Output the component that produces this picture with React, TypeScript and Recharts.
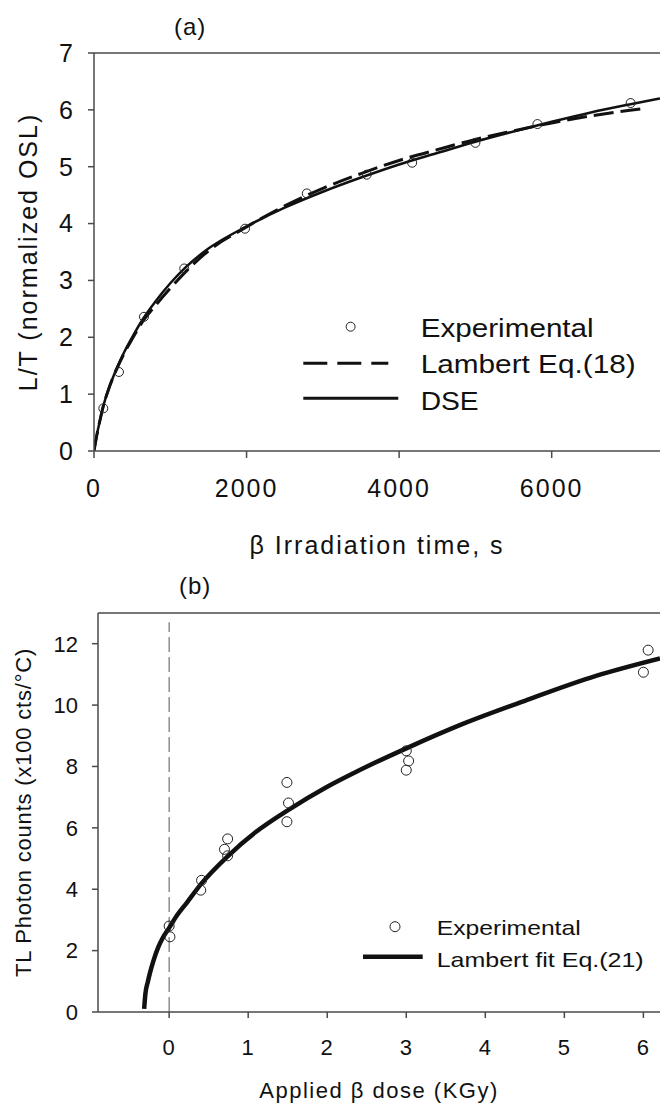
import React from 'react';
import { ComposedChart, Line, Scatter, XAxis, YAxis, ReferenceLine, Legend } from 'recharts';

// ---------- Panel (a) data ----------
const expTimeA = [122, 327, 655, 1183, 1980, 2790, 3575, 4171, 5000, 5813, 7035];
const expLTA = [0.75, 1.39, 2.36, 3.21, 3.91, 4.53, 4.86, 5.07, 5.42, 5.75, 6.12];

const dseTime = [0, 40, 80, 120, 200, 300, 400, 500, 650, 800, 1000, 1200, 1500, 2000, 2500, 3000, 3500, 4000, 4500, 5000, 5500, 6000, 6500, 7000, 7420];
const dseLT = [0, 0.3, 0.55, 0.78, 1.12, 1.46, 1.75, 2.0, 2.34, 2.62, 2.95, 3.23, 3.56, 3.95, 4.28, 4.56, 4.81, 5.04, 5.24, 5.44, 5.62, 5.79, 5.95, 6.09, 6.2];

const lamTime = [0, 40, 80, 120, 200, 300, 400, 500, 650, 800, 1000, 1200, 1500, 2000, 2500, 3000, 3500, 4000, 4500, 5000, 5500, 6000, 6500, 7000, 7180];
const lamLT = [0, 0.3, 0.55, 0.78, 1.12, 1.45, 1.73, 1.97, 2.3, 2.55, 2.86, 3.15, 3.52, 3.94, 4.31, 4.62, 4.88, 5.11, 5.3, 5.48, 5.63, 5.77, 5.89, 5.99, 6.02];

const xTicksA = [0, 2000, 4000, 6000];
const yTicksA = [0, 1, 2, 3, 4, 5, 6, 7];
const xDomainA = [0, 7420];
const yDomainA = [0, 7];

// ---------- Panel (b) data ----------
const expDoseB = [0, 0.01, 0.41, 0.4, 0.7, 0.74, 0.74, 1.49, 1.51, 1.49, 3.0, 3.03, 3.0, 6.06, 6.0];
const expCountsB = [2.8, 2.45, 4.29, 3.97, 5.3, 5.64, 5.09, 7.48, 6.81, 6.2, 8.51, 8.18, 7.88, 11.79, 11.07];

const fitDose = [-0.316, -0.3, -0.27, -0.24, -0.2, -0.14, -0.08, 0, 0.1, 0.22, 0.41, 0.73, 1.1, 1.5, 2.0, 2.4, 3.0, 3.7, 4.5, 5.4, 6.21];
const fitCounts = [0.1, 0.6, 0.98, 1.3, 1.66, 2.1, 2.42, 2.74, 3.15, 3.55, 4.19, 5.05, 5.87, 6.57, 7.34, 7.87, 8.59, 9.37, 10.14, 10.95, 11.52];

const xTicksB = [0, 1, 2, 3, 4, 5, 6];
const yTicksB = [0, 2, 4, 6, 8, 10, 12];
const xDomainB = [-0.9, 6.21];
const yDomainB = [0, 13];
const zeroLineTop = 12.7;

const zip = (xs: number[], ys: number[]) => xs.map((x, i) => ({ x, y: ys[i] }));

const expA = zip(expTimeA, expLTA);
const dseA = zip(dseTime, dseLT);
const lamA = zip(lamTime, lamLT);
const expB = zip(expDoseB, expCountsB);
const fitB = zip(fitDose, fitCounts);

const AXIS = '#4a4a4a';
const INK = '#111';
const FONT = '"Liberation Sans", Arial, Helvetica, sans-serif';

const circleA = (p: any) => (
  <circle cx={p.cx} cy={p.cy} r={4.5} fill="none" stroke="#222" strokeWidth={1} />
);
const circleB = (p: any) => (
  <circle cx={p.cx} cy={p.cy} r={5} fill="none" stroke="#222" strokeWidth={1} />
);

const LegendA = () => (
  <svg width={360} height={110} style={{ overflow: 'visible', fontFamily: FONT }}>
    <circle cx={50.6} cy={16.7} r={4.5} fill="none" stroke="#222" strokeWidth={1} />
    <text x={120.7} y={26.6} fontSize={25} fill={INK} textLength={173} lengthAdjust="spacingAndGlyphs">Experimental</text>
    <line x1={3.3} x2={88.3} y1={53.3} y2={53.3} stroke={INK} strokeWidth={3} strokeDasharray="24 10" />
    <text x={120.7} y={63.3} fontSize={25} fill={INK} textLength={215} lengthAdjust="spacingAndGlyphs">Lambert Eq.(18)</text>
    <line x1={3.3} x2={98.3} y1={88.3} y2={88.3} stroke={INK} strokeWidth={3} />
    <text x={120.7} y={100} fontSize={25} fill={INK} textLength={58} lengthAdjust="spacingAndGlyphs">DSE</text>
  </svg>
);

const LegendB = () => (
  <svg width={300} height={80} style={{ overflow: 'visible', fontFamily: FONT }}>
    <circle cx={45} cy={21.7} r={5} fill="none" stroke="#222" strokeWidth={1} />
    <text x={86.7} y={30} fontSize={21} fill={INK} textLength={144} lengthAdjust="spacingAndGlyphs">Experimental</text>
    <line x1={13} x2={72.7} y1={51.7} y2={51.7} stroke={INK} strokeWidth={4.5} />
    <text x={86.7} y={61.7} fontSize={21} fill={INK} textLength={207} lengthAdjust="spacingAndGlyphs">Lambert fit Eq.(21)</text>
  </svg>
);

export default function App() {
  return (
    <div style={{ position: 'absolute', left: 0, top: 0, width: 660, height: 1104, background: '#fff', fontFamily: FONT, overflow: 'hidden' }}>
      <div style={{ position: 'absolute', left: 174, top: 13, fontSize: 24, color: INK, letterSpacing: 1 }}>(a)</div>
      <div style={{ position: 'absolute', left: 0, top: 0 }}>
        <ComposedChart width={660} height={560} margin={{ top: 53, right: 0, bottom: 0, left: 0 }}>
          <XAxis
            dataKey="x"
            type="number"
            domain={xDomainA}
            ticks={xTicksA}
            interval={0}
            allowDataOverflow
            height={109}
            stroke={AXIS}
            strokeWidth={1.5}
            tickSize={7}
            tickMargin={21}
            tick={{ fontSize: 25, fill: INK, letterSpacing: 2 }}
            label={{ value: '\u03b2 Irradiation time, s', position: 'insideBottom', offset: 6, fontSize: 25, fill: INK, style: { letterSpacing: 2 } }}
          />
          <YAxis
            type="number"
            domain={yDomainA}
            ticks={yTicksA}
            interval={0}
            allowDataOverflow
            width={94}
            stroke={AXIS}
            strokeWidth={1.5}
            tickSize={6}
            tickMargin={15}
            tick={{ fontSize: 25, fill: INK }}
            label={{ value: 'L/T  (normalized OSL)', angle: -90, position: 'insideLeft', offset: 28, fontSize: 25, fill: INK, style: { textAnchor: 'middle', letterSpacing: 2 } }}
          />
          <ReferenceLine y={7} stroke={AXIS} strokeWidth={1.5} />
          <Line data={lamA} dataKey="y" type="monotone" dot={false} stroke={INK} strokeWidth={3} strokeDasharray="20 7" isAnimationActive={false} />
          <Line data={dseA} dataKey="y" type="monotone" dot={false} stroke={INK} strokeWidth={2.5} isAnimationActive={false} />
          <Scatter data={expA} dataKey="y" shape={circleA} isAnimationActive={false} />
          <Legend layout="horizontal" verticalAlign="middle" align="center" wrapperStyle={{ left: 300, top: 310, width: 360, height: 110 }} content={() => <LegendA />} />
        </ComposedChart>
      </div>

      <div style={{ position: 'absolute', left: 179, top: 572, fontSize: 24, color: INK, letterSpacing: 1 }}>(b)</div>
      <div style={{ position: 'absolute', left: 0, top: 560 }}>
        <ComposedChart width={660} height={544} margin={{ top: 53, right: 0, bottom: 0, left: 0 }}>
          <XAxis
            dataKey="x"
            type="number"
            domain={xDomainB}
            ticks={xTicksB}
            interval={0}
            allowDataOverflow
            height={92}
            stroke={AXIS}
            strokeWidth={1.5}
            tickSize={6}
            tickMargin={21}
            tick={{ fontSize: 22, fill: INK, letterSpacing: 1 }}
            label={{ value: 'Applied \u03b2 dose (KGy)', position: 'insideBottom', offset: 6, fontSize: 22, fill: INK, style: { letterSpacing: 1.5 } }}
          />
          <YAxis
            type="number"
            domain={yDomainB}
            ticks={yTicksB}
            interval={0}
            allowDataOverflow
            width={98}
            stroke={AXIS}
            strokeWidth={1.5}
            tickSize={6}
            tickMargin={14}
            tick={{ fontSize: 22, fill: INK }}
            label={{ value: 'TL Photon counts (x100 cts/\u00b0C)', angle: -90, position: 'insideLeft', offset: 23, fontSize: 22, fill: INK, style: { textAnchor: 'middle', letterSpacing: 0.8 } }}
          />
          <ReferenceLine y={13} stroke={AXIS} strokeWidth={1.5} />
          <ReferenceLine segment={[{ x: 0, y: 0 }, { x: 0, y: zeroLineTop }]} stroke="#555" strokeWidth={1} strokeDasharray="15 5" />
          <Line data={fitB} dataKey="y" type="monotone" dot={false} stroke={INK} strokeWidth={4.5} isAnimationActive={false} />
          <Scatter data={expB} dataKey="y" shape={circleB} isAnimationActive={false} />
          <Legend layout="horizontal" verticalAlign="middle" align="center" wrapperStyle={{ left: 350, top: 345, width: 300, height: 80 }} content={() => <LegendB />} />
        </ComposedChart>
      </div>
    </div>
  );
}
